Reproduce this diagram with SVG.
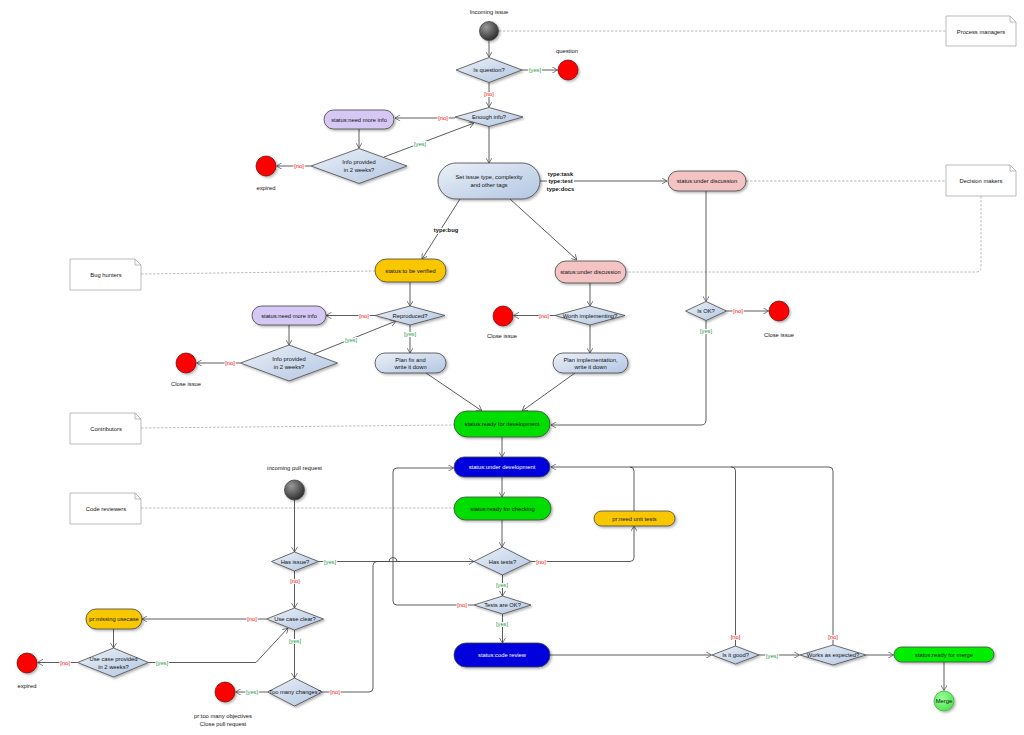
<svg xmlns="http://www.w3.org/2000/svg" width="1024" height="735" viewBox="0 0 1024 735">
<defs>
<style>
.t{font-family:"Liberation Sans",Arial,sans-serif;font-size:5.8px;text-anchor:middle;fill:#111}
.b{font-weight:bold}
.w{fill:#fff}
.y{fill:#2a9a4a}
.n{fill:#f00}
.h{stroke:#fff;stroke-width:2.2px;paint-order:stroke;stroke-linejoin:round}
.e{fill:none;stroke:#4a4a4a;stroke-width:0.9}
.d{fill:none;stroke:#aaa;stroke-width:0.8;stroke-dasharray:2.5 1.5}
.nd{stroke:#444;stroke-width:0.8}
.dia{fill:url(#gb);stroke:#4a4a4a;stroke-width:0.8}
.note{fill:#fff;stroke:#aaa;stroke-width:0.8}
.end{fill:#f00;stroke:#600;stroke-width:0.7}
</style>
<linearGradient id="gb" x1="0" y1="0" x2="1" y2="1">
<stop offset="0" stop-color="#eaf0f8"/><stop offset="1" stop-color="#b3c6e2"/>
</linearGradient>
<radialGradient id="gs" cx="0.35" cy="0.3" r="0.8">
<stop offset="0" stop-color="#999"/><stop offset="1" stop-color="#222"/>
</radialGradient>
<radialGradient id="gm" cx="0.4" cy="0.35" r="0.8">
<stop offset="0" stop-color="#99ff99"/><stop offset="1" stop-color="#44dd44"/>
</radialGradient>
<filter id="sh" x="-20%" y="-20%" width="150%" height="160%">
<feDropShadow dx="1.5" dy="1.5" stdDeviation="1" flood-color="#000" flood-opacity="0.3"/>
</filter>
<marker id="a" viewBox="0 0 10 12" refX="10" refY="6" markerWidth="5.5" markerHeight="6.6" orient="auto" markerUnits="userSpaceOnUse">
<path d="M0,0 L10,6 L0,12" fill="none" stroke="#4a4a4a" stroke-width="1.3"/>
</marker>
</defs>
<rect width="1024" height="735" fill="#fff"/>

<!-- notes dashed links -->
<g id="note-links">
<path class="d" d="M499,31 L946,31"/>
<path class="d" d="M746,181 L946,181"/>
<path class="d" d="M981,196 L981,267 Q981,272 976,272 L626,272"/>
<path class="d" d="M141,274 L375,271"/>
<path class="d" d="M141,428 L454,425"/>
<path class="d" d="M141,508 L454,508"/>
</g>

<g id="connectors">
<path class="e" marker-end="url(#a)" d="M489,41 L489,57"/>
<path class="e" marker-end="url(#a)" d="M522,70 L557.5,70"/>
<path class="e" marker-end="url(#a)" d="M489,82.5 L489,107"/>
<path class="e" marker-end="url(#a)" d="M455,118 L395,118"/>
<path class="e" marker-end="url(#a)" d="M359,129 L359,148"/>
<path class="e" marker-end="url(#a)" d="M384,157 L474,123"/>
<path class="e" marker-end="url(#a)" d="M311,166 L276.5,166"/>
<path class="e" marker-end="url(#a)" d="M489,126.5 L489,163"/>
<path class="e" marker-end="url(#a)" d="M540,181 L667,181"/>
<path class="e" marker-end="url(#a)" d="M706,191 L706,301.5"/>
<path class="e" marker-end="url(#a)" d="M726.5,311 L768.5,311"/>
<path class="e" marker-end="url(#a)" d="M706,320.5 L706,420 Q706,425 701,425 L551,425"/>
<path class="e" marker-end="url(#a)" d="M460,199 L422,259"/>
<path class="e" marker-end="url(#a)" d="M510,199 L577,260"/>
<path class="e" marker-end="url(#a)" d="M410,282 L410,306"/>
<path class="e" marker-end="url(#a)" d="M375,315.5 L326,315.5"/>
<path class="e" marker-end="url(#a)" d="M289,325 L289,345"/>
<path class="e" marker-end="url(#a)" d="M314,354 L396,321"/>
<path class="e" marker-end="url(#a)" d="M240.5,363 L196.5,363"/>
<path class="e" marker-end="url(#a)" d="M410,325 L410,353"/>
<path class="e" marker-end="url(#a)" d="M426,373 L482,411"/>
<path class="e" marker-end="url(#a)" d="M590,283 L590,306"/>
<path class="e" marker-end="url(#a)" d="M555,315.5 L513.5,315.5"/>
<path class="e" marker-end="url(#a)" d="M590,325 L590,353"/>
<path class="e" marker-end="url(#a)" d="M575,373 L522,411"/>
<path class="e" marker-end="url(#a)" d="M502,437 L502,457"/>
<path class="e" marker-end="url(#a)" d="M502,477 L502,497"/>
<path class="e" marker-end="url(#a)" d="M502,520 L502,547"/>
<path class="e" marker-end="url(#a)" d="M294.5,500 L294.5,552"/>
<path class="e" marker-end="url(#a)" d="M318.5,561.5 L389,561.5 A4,4 0 0 1 397,561.5 L474,561.5"/>
<path class="e" d="M322.5,692 L369,692 Q373,692 373,688 L373,565.5 Q373,561.5 377,561.5 L400,561.5"/>
<path class="e" marker-end="url(#a)" d="M294.5,571 L294.5,608"/>
<path class="e" marker-end="url(#a)" d="M266.5,619 L142,619"/>
<path class="e" marker-end="url(#a)" d="M113.5,629 L113.5,648"/>
<path class="e" marker-end="url(#a)" d="M77.5,662.5 L37.5,662.5"/>
<path class="e" marker-end="url(#a)" d="M148.5,662.5 L256,662.5 L288,628"/>
<path class="e" marker-end="url(#a)" d="M294.5,630 L294.5,678"/>
<path class="e" marker-end="url(#a)" d="M267.5,692 L235.5,692"/>
<path class="e" marker-end="url(#a)" d="M474,605 L397,605 Q393,605 393,601 L393,472 Q393,468 397,468 L453.5,468"/>
<path class="e" marker-end="url(#a)" d="M531,561.5 L630,561.5 Q634,561.5 634,557.5 L634,526"/>
<path class="e" marker-end="url(#a)" d="M634,511 L634,471 Q634,467 630,467 L551,467"/>
<path class="e" d="M735.5,646 L735.5,471 Q735.5,467 731.5,467 L630,467"/>
<path class="e" d="M833,645 L833,471 Q833,467 829,467 L731,467"/>
<path class="e" marker-end="url(#a)" d="M502.5,575 L502.5,596"/>
<path class="e" marker-end="url(#a)" d="M502.5,614 L502.5,643"/>
<path class="e" marker-end="url(#a)" d="M550,655 L711.5,655"/>
<path class="e" marker-end="url(#a)" d="M759,655 L799.5,655"/>
<path class="e" marker-end="url(#a)" d="M866,655 L893.5,655"/>
<path class="e" marker-end="url(#a)" d="M944,662 L944,690.5"/>
</g>

<g id="edge-labels">
<text class="t y h" x="535" y="72">[yes]</text>
<text class="t n h" x="489" y="95.5">[no]</text>
<text class="t n h" x="443" y="120">[no]</text>
<text class="t y h" x="420" y="146">[yes]</text>
<text class="t n h" x="299" y="168">[no]</text>
<rect x="547" y="169" width="27" height="23" fill="#fff"/>
<text class="t b" x="560.5" y="175.5">type:task</text>
<text class="t b" x="560.5" y="183">type:test</text>
<text class="t b" x="560.5" y="190.5">type:docs</text>
<text class="t b h" x="446" y="231.5">type:bug</text>
<text class="t n h" x="738" y="313">[no]</text>
<text class="t y h" x="706" y="333">[yes]</text>
<text class="t n h" x="364" y="317.5">[no]</text>
<text class="t y h" x="351" y="341.5">[yes]</text>
<text class="t n h" x="230" y="365">[no]</text>
<text class="t y h" x="410" y="336">[yes]</text>
<text class="t n h" x="544" y="317.5">[no]</text>
<text class="t y h" x="330" y="563.5">[yes]</text>
<text class="t n h" x="295" y="583">[no]</text>
<text class="t n h" x="252" y="621">[no]</text>
<text class="t y h" x="295" y="643">[yes]</text>
<text class="t n h" x="65" y="664.5">[no]</text>
<text class="t y h" x="162" y="664.5">[yes]</text>
<text class="t y h" x="252" y="694">[yes]</text>
<text class="t n h" x="335" y="694">[no]</text>
<text class="t n h" x="462" y="607">[no]</text>
<text class="t n h" x="541" y="563.5">[no]</text>
<text class="t y h" x="502" y="587">[yes]</text>
<text class="t y h" x="502" y="626">[yes]</text>
<text class="t n h" x="735.5" y="639">[no]</text>
<text class="t y h" x="772" y="657.5">[yes]</text>
<text class="t n h" x="833" y="639">[no]</text>
</g>

<!-- notes -->
<g id="note-process-managers"><path class="note" d="M946,16 L1010,16 L1016,22 L1016,46 L946,46 Z M1010,16 L1010,22 L1016,22"/><text class="t" x="981" y="34">Process managers</text></g>
<g id="note-decision-makers"><path class="note" d="M946,165 L1010,165 L1016,171 L1016,196 L946,196 Z M1010,165 L1010,171 L1016,171"/><text class="t" x="981" y="183">Decision makers</text></g>
<g id="note-bug-hunters"><path class="note" d="M70,259 L135,259 L141,265 L141,290 L70,290 Z M135,259 L135,265 L141,265"/><text class="t" x="106" y="277">Bug hunters</text></g>
<g id="note-contributors"><path class="note" d="M70,413 L135,413 L141,419 L141,444 L70,444 Z M135,413 L135,419 L141,419"/><text class="t" x="106" y="431">Contributors</text></g>
<g id="note-code-reviewers"><path class="note" d="M70,493 L135,493 L141,499 L141,524 L70,524 Z M135,493 L135,499 L141,499"/><text class="t" x="106" y="511">Code reviewers</text></g>

<!-- issue flow -->
<g id="start-issue"><text class="t" x="489" y="14">Incoming issue</text><circle cx="489" cy="31" r="9.5" fill="url(#gs)" class="nd" filter="url(#sh)"/></g>
<g id="d-is-question"><polygon class="dia" points="456,70 489,57.5 522,70 489,82.5" filter="url(#sh)"/><text class="t" x="489" y="72">Is question?</text></g>
<g id="end-question"><circle class="end" cx="568" cy="70" r="10" filter="url(#sh)"/><text class="t" x="567" y="53">question</text></g>
<g id="d-enough-info"><polygon class="dia" points="455,117 489,107.5 523,117 489,126.5" filter="url(#sh)"/><text class="t" x="489" y="119">Enough info?</text></g>
<g id="n-need-more-info-1"><rect x="324" y="110" width="70" height="19" rx="9.5" fill="#d5c8f4" class="nd" filter="url(#sh)"/><text class="t" x="359" y="121.5">status:need more info</text></g>
<g id="d-info-provided-1"><polygon class="dia" points="311,166 359,148.5 407,166 359,183.5" filter="url(#sh)"/><text class="t" x="359" y="164">Info provided</text><text class="t" x="359" y="172">in 2 weeks?</text></g>
<g id="end-expired-1"><circle class="end" cx="266" cy="166" r="10" filter="url(#sh)"/><text class="t" x="266" y="190">expired</text></g>
<g id="n-set-issue-type"><rect x="438" y="163" width="102" height="36" rx="18" fill="url(#gb)" class="nd" filter="url(#sh)"/><text class="t" x="489" y="179">Set issue type, complexity</text><text class="t" x="489" y="187">and other tags</text></g>
<g id="n-under-discussion-1"><rect x="668" y="171" width="78" height="20" rx="10" fill="#f4c4c4" class="nd" filter="url(#sh)"/><text class="t" x="707" y="183">status:under discussion</text></g>
<g id="d-is-ok"><polygon class="dia" points="685.5,311 706,301.5 726.5,311 706,320.5" filter="url(#sh)"/><text class="t" x="706" y="313">Is OK?</text></g>
<g id="end-close-3"><circle class="end" cx="779" cy="311" r="10" filter="url(#sh)"/><text class="t" x="779" y="337">Close issue</text></g>

<g id="n-to-be-verified"><rect x="375" y="259" width="71" height="23" rx="11.5" fill="#f8c700" class="nd" filter="url(#sh)"/><text class="t" x="410.5" y="272.5">status:to be verified</text></g>
<g id="d-reproduced"><polygon class="dia" points="375,315.5 410,306 445,315.5 410,325" filter="url(#sh)"/><text class="t" x="410" y="317.5">Reproduced?</text></g>
<g id="n-need-more-info-2"><rect x="252" y="306" width="74" height="19" rx="9.5" fill="#d5c8f4" class="nd" filter="url(#sh)"/><text class="t" x="289" y="317.5">status:need more info</text></g>
<g id="d-info-provided-2"><polygon class="dia" points="240.5,363 289,345 337.5,363 289,381" filter="url(#sh)"/><text class="t" x="289" y="361">Info provided</text><text class="t" x="289" y="369">in 2 weeks?</text></g>
<g id="end-close-1"><circle class="end" cx="186" cy="363" r="10" filter="url(#sh)"/><text class="t" x="186" y="386">Close issue</text></g>
<g id="n-plan-fix"><rect x="375" y="353" width="71" height="20" rx="10" fill="url(#gb)" class="nd" filter="url(#sh)"/><text class="t" x="410.5" y="361.5">Plan fix and</text><text class="t" x="410.5" y="369">write it down</text></g>

<g id="n-under-discussion-2"><rect x="555" y="261" width="71" height="22" rx="11" fill="#f4c4c4" class="nd" filter="url(#sh)"/><text class="t" x="590.5" y="274">status:under discussion</text></g>
<g id="d-worth"><polygon class="dia" points="555,315.5 590,306 625,315.5 590,325" filter="url(#sh)"/><text class="t" x="590" y="317.5">Worth implementing?</text></g>
<g id="end-close-2"><circle class="end" cx="503" cy="316" r="10" filter="url(#sh)"/><text class="t" x="502" y="338">Close issue</text></g>
<g id="n-plan-impl"><rect x="553" y="353" width="75" height="20" rx="10" fill="url(#gb)" class="nd" filter="url(#sh)"/><text class="t" x="590.5" y="361.5">Plan implementation,</text><text class="t" x="590.5" y="369">write it down</text></g>

<g id="n-ready-dev"><rect x="454" y="411" width="96" height="26" rx="13" fill="#00dd00" class="nd" filter="url(#sh)"/><text class="t" x="502" y="426">status:ready for development</text></g>
<g id="n-under-dev"><rect x="454" y="457" width="96" height="20" rx="10" fill="#0000dd" class="nd" filter="url(#sh)"/><text class="t w" x="502" y="469">status:under development</text></g>
<g id="n-ready-check"><rect x="454" y="497" width="97" height="23" rx="11.5" fill="#00dd00" class="nd" filter="url(#sh)"/><text class="t" x="502.5" y="510.5">status:ready for checking</text></g>
<g id="d-has-tests"><polygon class="dia" points="474,561.5 502.5,547 531,561.5 502.5,575" filter="url(#sh)"/><text class="t" x="502.5" y="563.5">Has tests?</text></g>
<g id="n-need-unit-tests"><rect x="594" y="511" width="81" height="15" rx="7.5" fill="#f8c700" class="nd" filter="url(#sh)"/><text class="t" x="634.5" y="520.5">pr:need unit tests</text></g>
<g id="d-tests-ok"><polygon class="dia" points="474,605 502.5,596 531,605 502.5,614" filter="url(#sh)"/><text class="t" x="502.5" y="607">Tests are OK?</text></g>
<g id="n-code-review"><rect x="454" y="643" width="96" height="24" rx="12" fill="#0000dd" class="nd" filter="url(#sh)"/><text class="t w" x="502" y="657">status:code review</text></g>
<g id="d-is-good"><polygon class="dia" points="712,655 735.5,646 759,655 735.5,664" filter="url(#sh)"/><text class="t" x="735.5" y="657">Is it good?</text></g>
<g id="d-works"><polygon class="dia" points="800,655 833,645 866,655 833,665" filter="url(#sh)"/><text class="t" x="833" y="657">Works as expected?</text></g>
<g id="n-ready-merge"><rect x="894" y="647" width="100" height="15" rx="7.5" fill="#00ee00" class="nd" filter="url(#sh)"/><text class="t" x="944" y="656.5">status:ready for merge</text></g>
<g id="end-merge"><circle cx="944" cy="701" r="10" fill="url(#gm)" stroke="#3a3" stroke-width="0.7" filter="url(#sh)"/><text class="t" x="944" y="703">Merge</text></g>

<!-- pull request flow -->
<g id="start-pr"><text class="t" x="294.5" y="470">incoming pull request</text><circle cx="294.5" cy="490" r="10" fill="url(#gs)" class="nd" filter="url(#sh)"/></g>
<g id="d-has-issue"><polygon class="dia" points="271.5,561.5 294.5,552 318.5,561.5 294.5,571" filter="url(#sh)"/><text class="t" x="295" y="563.5">Has issue?</text></g>
<g id="d-use-case-clear"><polygon class="dia" points="266.5,619 294.5,608 323.5,619 294.5,630" filter="url(#sh)"/><text class="t" x="295" y="621">Use case clear?</text></g>
<g id="n-missing-usecase"><rect x="86" y="609" width="56" height="20" rx="10" fill="#f8c700" class="nd" filter="url(#sh)"/><text class="t" x="114" y="621">pr:missing usecase</text></g>
<g id="d-use-case-provided"><polygon class="dia" points="77.5,662.5 113.5,648 148.5,662.5 113.5,677" filter="url(#sh)"/><text class="t" x="113.5" y="660.5">Use case provided</text><text class="t" x="113.5" y="668.5">in 2 weeks?</text></g>
<g id="end-expired-2"><circle class="end" cx="27" cy="663" r="10" filter="url(#sh)"/><text class="t" x="27" y="688">expired</text></g>
<g id="d-too-many"><polygon class="dia" points="267.5,692 294.5,678 322.5,692 294.5,706" filter="url(#sh)"/><text class="t" x="295" y="694">Too many changes?</text></g>
<g id="end-too-many"><circle class="end" cx="225" cy="692" r="10" filter="url(#sh)"/><text class="t" x="223" y="718">pr:too many objectives</text><text class="t" x="223" y="725.5">Close pull request</text></g>
</svg>
